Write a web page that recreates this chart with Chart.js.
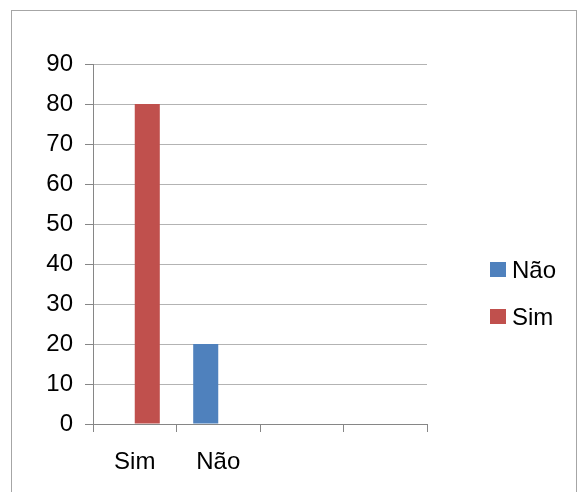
<!DOCTYPE html>
<html>
<head>
<meta charset="utf-8">
<script src="https://cdn.jsdelivr.net/npm/chart.js@4.4.1/dist/chart.umd.min.js"></script>
<style>
  html, body { margin: 0; padding: 0; background: #ffffff; }
  #wrap { position: relative; width: 578px; height: 492px; }
</style>
</head>
<body>
<div id="wrap"><canvas id="chart" width="578" height="492"></canvas></div>
<script>
const categories = ['Sim', 'Não', '', ''];
const naoValues = [0, 20, null, null];
const simValues = [80, 0, null, null];
const yTicks = [0, 10, 20, 30, 40, 50, 60, 70, 80, 90];

const FONT = 'Arial, "Liberation Sans", sans-serif';

// frame round the whole chart + legend on the right
const framePlugin = {
    id: 'frame',
    beforeDraw(chart) {
        const ctx = chart.ctx;
        ctx.save();
        ctx.strokeStyle = '#a6a6a6';
        ctx.lineWidth = 1;
        ctx.strokeRect(11.5, 10.5, 565, 500);
        ctx.restore();
    },
    afterDraw(chart) {
        const ctx = chart.ctx;
        ctx.save();
        ctx.font = '24px ' + FONT;
        ctx.textBaseline = 'alphabetic';
        const rows = [278, 325];
        chart.data.datasets.forEach((ds, i) => {
            ctx.fillStyle = ds.backgroundColor;
            ctx.fillRect(490, rows[i] - 16, 16, 15);
            ctx.fillStyle = '#000000';
            ctx.fillText(ds.label, 512, rows[i]);
        });
        ctx.restore();
    }
};

new Chart(document.getElementById('chart'), {
    type: 'bar',
    data: {
        labels: categories,
        datasets: [
            {
                label: 'Não',
                data: naoValues,
                backgroundColor: '#4f81bd'
            },
            {
                label: 'Sim',
                data: simValues,
                backgroundColor: '#c0504d'
            }
        ]
    },
    options: {
        responsive: false,
        animation: false,
        categoryPercentage: 0.6,
        barPercentage: 1,
        layout: { padding: { top: 64, right: 151, left: 0, bottom: 0 } },
        plugins: {
            legend: { display: false },
            tooltip: { enabled: false }
        },
        scales: {
            y: {
                min: 0,
                max: 90,
                afterFit(scale) { scale.width = 93; },
                afterBuildTicks(scale) { scale.ticks = yTicks.map(v => ({ value: v })); },
                ticks: {
                    color: '#000000',
                    font: { size: 24, family: FONT },
                    padding: 12
                },
                grid: {
                    color: (c) => c.tick && c.tick.value === 0 ? '#868686' : '#b3b3b3',
                    tickColor: '#868686',
                    tickLength: 8
                },
                border: { display: true, color: '#868686' }
            },
            x: {
                afterFit(scale) { scale.height = 492 - 424; },
                ticks: {
                    color: '#000000',
                    font: { size: 24, family: FONT },
                    padding: 16
                },
                grid: {
                    offset: true,
                    drawOnChartArea: false,
                    tickColor: '#868686',
                    tickLength: 8
                },
                border: { display: true, color: '#868686' }
            }
        }
    },
    plugins: [framePlugin]
});
</script>
</body>
</html>
